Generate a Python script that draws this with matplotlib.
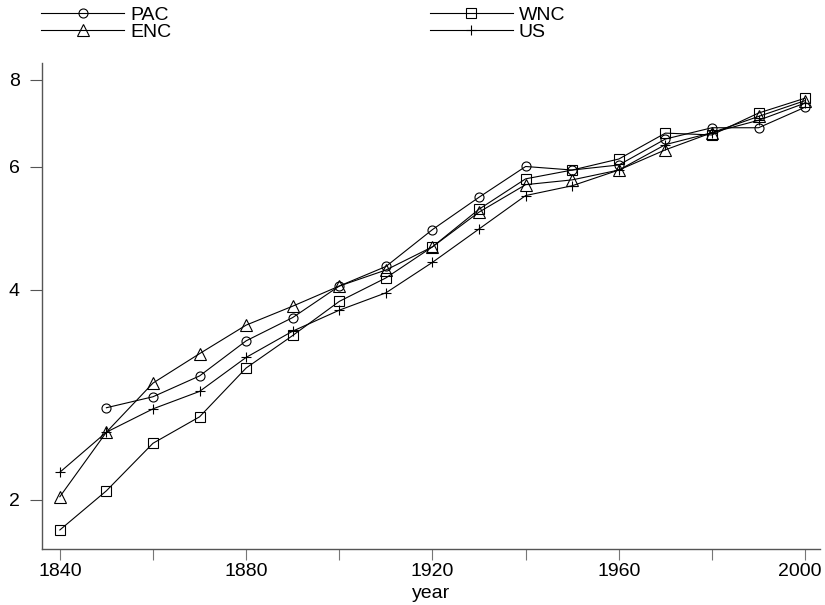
import numpy as np
import matplotlib
matplotlib.use("Agg")
from matplotlib import pyplot as plt
from matplotlib.ticker import FixedLocator, NullLocator, NullFormatter
from matplotlib.transforms import ScaledTranslation

plt.rcParams['font.family'] = ['Liberation Sans', 'DejaVu Sans']

years = np.arange(1840, 2001, 10)
pac = [np.nan, 2.71, 2.81, 3.01, 3.38, 3.65, 4.05, 4.32, 4.88, 5.43, 6.01, 5.94, 6.04, 6.58, 6.83, 6.83, 7.31]
wnc = [1.81, 2.06, 2.41, 2.63, 3.09, 3.44, 3.85, 4.16, 4.61, 5.22, 5.77, 5.94, 6.16, 6.71, 6.67, 7.17, 7.53]
enc = [2.02, 2.50, 2.94, 3.24, 3.56, 3.79, 4.05, 4.27, 4.61, 5.17, 5.66, 5.75, 5.94, 6.35, 6.72, 7.09, 7.47]
us = [2.19, 2.50, 2.70, 2.86, 3.20, 3.49, 3.74, 3.96, 4.38, 4.89, 5.46, 5.64, 5.94, 6.46, 6.72, 7.00, 7.41]

xticks = list(range(1840, 2001, 20))
xlabels = [str(t) if t % 40 == 0 else '' for t in xticks]
yticks = [2, 4, 6, 8]

fig = plt.figure(figsize=(8.25, 6.05), dpi=100)
ax = fig.add_axes([0.0505, 0.0926, 0.9435, 0.8034])

kw = dict(color='black', lw=0.8, mfc='none', mec='black', mew=0.8)
l_pac, = ax.plot(years, pac, marker='o', ms=6.5, label='PAC', **kw)
l_wnc, = ax.plot(years, wnc, marker='s', ms=7, label='WNC', **kw)
l_enc, = ax.plot(years, enc, marker='^', ms=8, label='ENC', **kw)
l_us, = ax.plot(years, us, marker='+', ms=7, label='US', **kw)

ax.set_yscale('log')
ax.set_ylim(1.70, 8.46)
ax.set_xlim(1836.1, 2003.2)
ax.yaxis.set_major_locator(FixedLocator(yticks))
ax.set_yticklabels([str(t) for t in yticks])
ax.yaxis.set_minor_locator(NullLocator())
ax.yaxis.set_minor_formatter(NullFormatter())
ax.set_xticks(xticks)
ax.set_xticklabels(xlabels)

for s in ['top', 'right']:
    ax.spines[s].set_visible(False)
for s in ['left', 'bottom']:
    ax.spines[s].set_color('#555555')
    ax.spines[s].set_linewidth(1.0)
ax.tick_params(axis='x', length=8, width=0.8, color='#777777', labelsize=14, pad=2)
ax.tick_params(axis='y', length=8.6, width=0.8, color='#555555', labelsize=14, pad=7)
ax.set_xlabel('year', fontsize=14, labelpad=4)

# last label sits a little left, as in the original
last = ax.get_xticklabels()[-1]
last.set_transform(last.get_transform() + ScaledTranslation(-5 / 100, 0, fig.dpi_scale_trans))

fig.legend([l_pac, l_enc, l_wnc, l_us], ['PAC', 'ENC', 'WNC', 'US'],
           loc='upper left', bbox_to_anchor=(0.05, 0.99), ncol=2,
           frameon=False, fontsize=14, borderpad=0, borderaxespad=0,
           handlelength=4.27, handletextpad=0.3, columnspacing=13.3,
           labelspacing=-0.02)

fig.savefig('out.png', dpi=100)
